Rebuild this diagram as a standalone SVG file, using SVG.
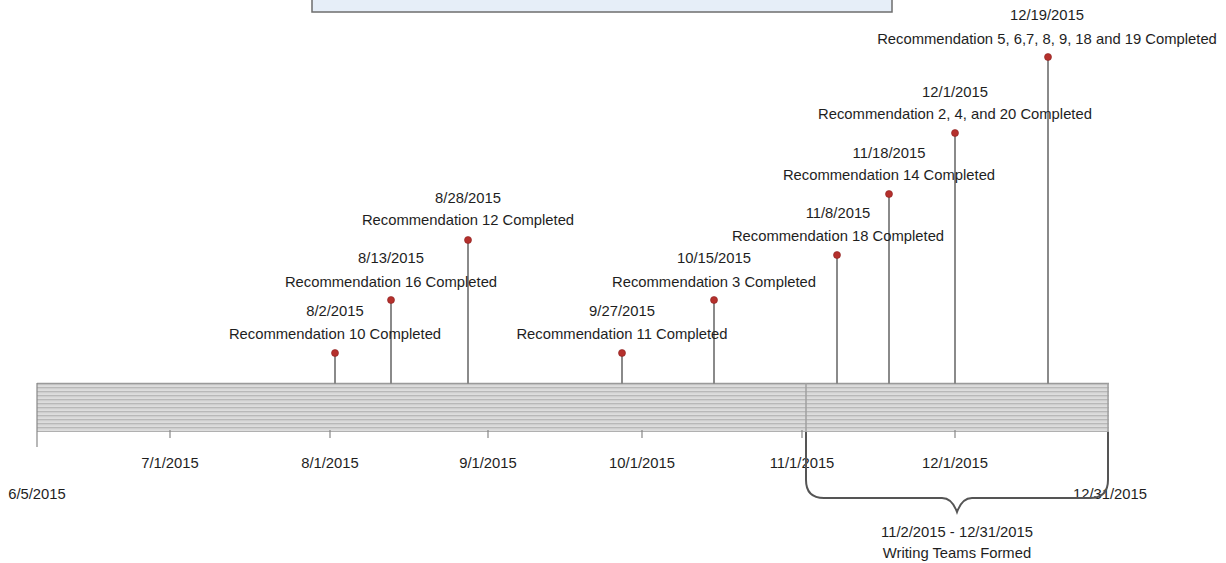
<svg xmlns="http://www.w3.org/2000/svg" width="1226" height="563" viewBox="0 0 1226 563">
<style>
text{font-family:"Liberation Sans",Arial,sans-serif;font-size:14.8px;fill:#1e1e1e;text-anchor:middle}
.stem{stroke:#8a8a8a;stroke-width:2}
.dot{fill:#b5302c;stroke:#8a2020;stroke-width:0.6}
.tick{stroke:#888;stroke-width:1.2}
</style>
<defs>
<pattern id="stripes" x="0" y="383" width="10" height="4" patternUnits="userSpaceOnUse">
<rect x="0" y="0" width="10" height="4" fill="#e4e4e4"/>
<rect x="0" y="0" width="10" height="1.5" fill="#b8b8b8"/>
<rect x="0" y="2.5" width="10" height="0.8" fill="#cfcfcf"/>
</pattern>
</defs>
<rect width="1226" height="563" fill="#ffffff"/>
<g id="title-box"><rect x="312" y="-6" width="580" height="18" fill="#e6eef8" stroke="#6e6e6e" stroke-width="1.5"/></g>
<g id="timeline-bar">
<rect x="37" y="383" width="1072" height="49" fill="url(#stripes)"/>
<line x1="37" y1="383.5" x2="1109" y2="383.5" stroke="#9a9a9a" stroke-width="1.5"/>
<line x1="37" y1="431.5" x2="1109" y2="431.5" stroke="#b0b0b0" stroke-width="1"/>
<line x1="37" y1="383" x2="37" y2="447" class="tick"/>
<line x1="806" y1="383" x2="806" y2="432" stroke="#a0a0a0" stroke-width="1.5"/>
<line x1="1108" y1="383" x2="1108" y2="432" stroke="#a0a0a0" stroke-width="1.5"/>
</g>
<g id="ticks">
<line x1="170" y1="430" x2="170" y2="438" class="tick"/>
<line x1="330" y1="430" x2="330" y2="438" class="tick"/>
<line x1="488" y1="430" x2="488" y2="438" class="tick"/>
<line x1="642" y1="430" x2="642" y2="438" class="tick"/>
<line x1="802" y1="430" x2="802" y2="438" class="tick"/>
<line x1="955" y1="430" x2="955" y2="438" class="tick"/>
<text x="170" y="468">7/1/2015</text>
<text x="330" y="468">8/1/2015</text>
<text x="488" y="468">9/1/2015</text>
<text x="642" y="468">10/1/2015</text>
<text x="802" y="468">11/1/2015</text>
<text x="955" y="468">12/1/2015</text>
<text x="37" y="499">6/5/2015</text>
<text x="1110" y="499">12/31/2015</text>
</g>
<g id="connectors">
<line class="stem" x1="335" y1="353" x2="335" y2="384"/>
<line class="stem" x1="391" y1="300" x2="391" y2="384"/>
<line class="stem" x1="468" y1="240" x2="468" y2="384"/>
<line class="stem" x1="622" y1="353" x2="622" y2="384"/>
<line class="stem" x1="714" y1="300" x2="714" y2="384"/>
<line class="stem" x1="837" y1="255" x2="837" y2="384"/>
<line class="stem" x1="889" y1="194" x2="889" y2="384"/>
<line class="stem" x1="955" y1="133" x2="955" y2="384"/>
<line class="stem" x1="1048" y1="57" x2="1048" y2="384"/>
<path d="M806 432 V480 Q806 498 824 498 H942 Q952 498 957 512 Q962 498 972 498 H1090 Q1108 498 1108 480 V432" fill="none" stroke="#555" stroke-width="2"/>
</g>
<g id="m-0802"><circle class="dot" cx="335" cy="353" r="3.5"/><text x="335" y="316">8/2/2015</text><text x="335" y="339">Recommendation 10 Completed</text></g>
<g id="m-0813"><circle class="dot" cx="391" cy="300" r="3.5"/><text x="391" y="263">8/13/2015</text><text x="391" y="287">Recommendation 16 Completed</text></g>
<g id="m-0828"><circle class="dot" cx="468" cy="240" r="3.5"/><text x="468" y="203">8/28/2015</text><text x="468" y="225">Recommendation 12 Completed</text></g>
<g id="m-0927"><circle class="dot" cx="622" cy="353" r="3.5"/><text x="622" y="316">9/27/2015</text><text x="622" y="339">Recommendation 11 Completed</text></g>
<g id="m-1015"><circle class="dot" cx="714" cy="300" r="3.5"/><text x="714" y="263">10/15/2015</text><text x="714" y="287">Recommendation 3 Completed</text></g>
<g id="m-1108"><circle class="dot" cx="837" cy="255" r="3.5"/><text x="838" y="218">11/8/2015</text><text x="838" y="241">Recommendation 18 Completed</text></g>
<g id="m-1118"><circle class="dot" cx="889" cy="194" r="3.5"/><text x="889" y="158">11/18/2015</text><text x="889" y="180">Recommendation 14 Completed</text></g>
<g id="m-1201"><circle class="dot" cx="955" cy="133" r="3.5"/><text x="955" y="97">12/1/2015</text><text x="955" y="119">Recommendation 2, 4, and 20 Completed</text></g>
<g id="m-1219"><circle class="dot" cx="1048" cy="57" r="3.5"/><text x="1047" y="20">12/19/2015</text><text x="1047" y="44">Recommendation 5, 6,7, 8, 9, 18 and 19 Completed</text></g>
<g id="writing-teams"><text x="957" y="537">11/2/2015 - 12/31/2015</text><text x="957" y="558">Writing Teams Formed</text></g>
</svg>
